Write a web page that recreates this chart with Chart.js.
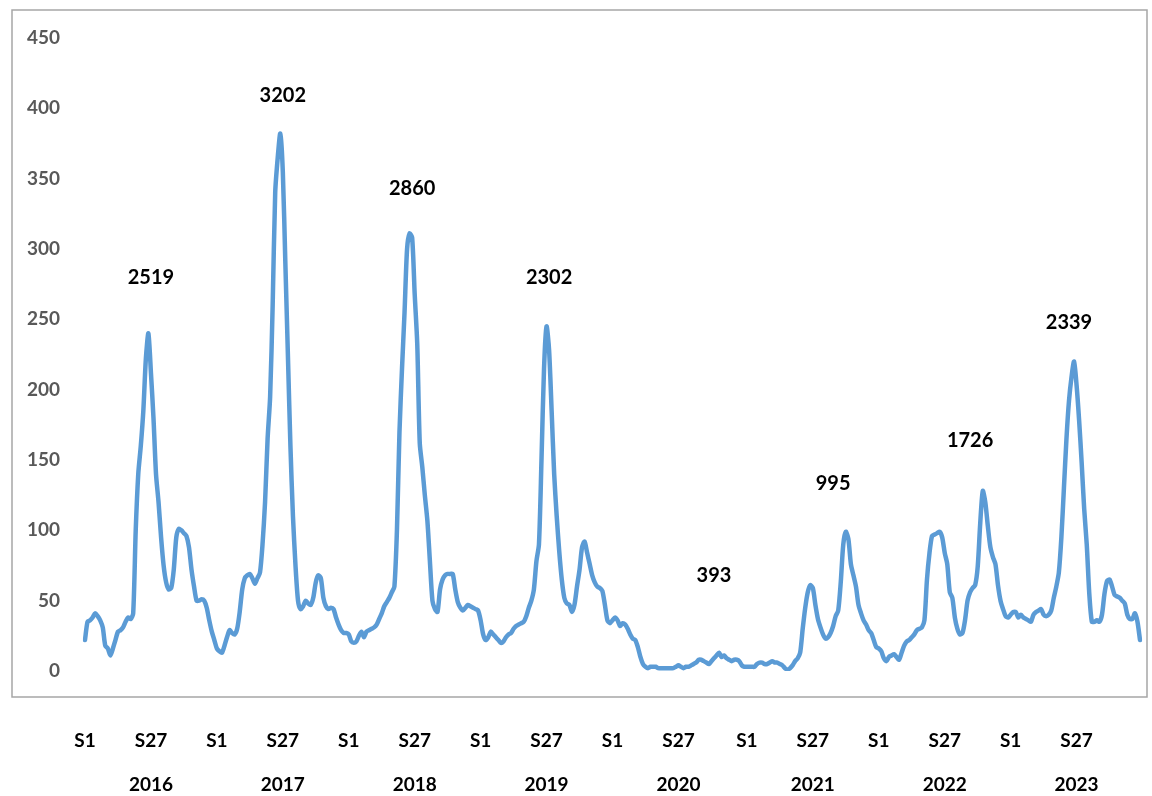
<!DOCTYPE html>
<html lang="pt">
<head>
    <meta charset="UTF-8">
    <title>Casos por semana epidemiológica 2016-2023</title>
    <script src="https://cdn.jsdelivr.net/npm/chart.js"></script>
    <style>
        html, body {
            margin: 0;
            padding: 0;
            background: #ffffff;
        }
        #wrap {
            width: 1152px;
            height: 796px;
            position: relative;
        }
    </style>
</head>
<body>
    <div id="wrap"><canvas id="weeklyChart"></canvas></div>
    <script>
        // weekly counts per epidemiological year (S1..S52, 2020 has S53)
        const years = [2016, 2017, 2018, 2019, 2020, 2021, 2022, 2023];

        const w2016 = [22,35,36,38,41,39,36,31,18,16, 11,16,22,28,29,31,35,38,37,41,
                       100,140,160,185,222,240,212,180,140,120, 95,75,63,58,59,72,95,101,100,98,
                       96,88,72,60,50,50,51,50,45,36, 28,22];
        const w2017 = [16,14,13,18,24,29,27,26,30,42, 58,66,68,69,66,62,66,70,90,120,
                       165,195,260,340,365,382,355,290,225,160, 110,75,50,44,46,50,48,47,52,63,
                       68,66,52,46,44,45,44,38,33,29, 27,27];
        const w2018 = [26,21,20,21,25,28,24,28,29,30, 31,33,37,41,46,49,52,56,60,100,
                       170,215,255,300,311,308,268,233,162,145, 125,107,78,50,44,42,58,65,68,69,
                       69,69,58,49,45,43,45,47,46,45, 44,43];
        const w2019 = [36,26,22,24,28,26,24,22,20,21, 24,26,27,30,32,33,34,35,39,45,
                       50,58,78,90,150,215,245,228,185,140, 110,85,65,52,48,47,42,47,60,72,
                       88,92,84,76,68,63,60,59,57,47, 36,34];
        const w2020 = [36,38,36,32,34,33,30,26,23,22, 17,10,5,3,2,3,3,3,2,2,
                       2,2,2,2,2,3,4,3,2,3, 3,4,5,6,8,8,7,6,5,7,
                       9,11,13,10,11,9,8,7,8,8, 7,4,3];
        const w2021 = [3,3,3,3,5,6,6,5,5,6, 7,6,6,5,4,2,1,2,4,7,
                       9,13,30,45,56,61,59,47,37,31, 26,23,24,27,32,39,43,63,90,99,
                       94,76,68,60,47,41,36,33,29,27, 22,17];
        const w2022 = [16,14,9,7,10,11,12,10,8,13, 18,21,22,24,26,29,30,31,36,65,
                       84,96,97,98,99,95,84,76,56,52, 38,30,26,27,36,50,56,59,61,74,
                       105,128,120,103,88,81,76,61,50,44, 39,38];
        const w2023 = [40,42,42,38,40,38,37,36,35,40, 42,43,44,40,39,40,43,52,60,70,
                       95,130,165,192,209,220,203,178,148,115, 90,55,35,35,36,35,40,55,64,65,
                       60,54,53,52,50,48,40,37,37,41, 35,22];

        const seasons = [w2016, w2017, w2018, w2019, w2020, w2021, w2022, w2023];

        // weeks that get a tick label
        const tickWeeks = [1, 27];

        // season totals written above each epidemic peak
        const seasonTotals = [2519, 3202, 2860, 2302, 393, 995, 1726, 2339];
        const totalWeek = [27, 27, 26, 28, 41, 35, 37, 24];
        const totalLevel = [280, 409, 343, 280, 68, 133, 164, 248];

        const yTicks = { min: 0, max: 450, step: 50 };

        // flatten into one category axis
        const labels = [];
        const values = [];
        const yearStart = [];
        seasons.forEach((weeks, y) => {
            yearStart.push(labels.length);
            weeks.forEach((v, i) => {
                labels.push(years[y] + '-S' + (i + 1));
                values.push(v);
            });
        });

        const fontFace = 'Lato, "Open Sans", sans-serif';

        // grey frame around the plot and the value axis
        const framePlugin = {
            id: 'frame',
            beforeDraw(chart) {
                const ctx = chart.ctx;
                const a = chart.chartArea;
                ctx.save();
                ctx.strokeStyle = '#a6a6a6';
                ctx.lineWidth = 1.5;
                ctx.strokeRect(a.left - 73, a.top - 28, (a.right + 7) - (a.left - 73), (a.bottom + 26) - (a.top - 28));
                ctx.restore();
            }
        };

        // season totals
        const totalsPlugin = {
            id: 'totals',
            afterDatasetsDraw(chart) {
                const ctx = chart.ctx;
                const xs = chart.scales.x;
                const ys = chart.scales.y;
                ctx.save();
                ctx.font = 'bold 20px ' + fontFace;
                ctx.fillStyle = '#000000';
                ctx.textAlign = 'center';
                ctx.textBaseline = 'middle';
                seasonTotals.forEach((t, i) => {
                    const idx = yearStart[i] + totalWeek[i] - 1;
                    ctx.fillText(String(t), xs.getPixelForValue(idx), ys.getPixelForValue(totalLevel[i]));
                });
                ctx.restore();
            }
        };

        const ctx = document.getElementById('weeklyChart').getContext('2d');
        new Chart(ctx, {
            type: 'line',
            data: {
                labels: labels,
                datasets: [{
                    label: 'Casos',
                    data: values,
                    borderColor: '#5B9BD5',
                    borderWidth: 4.5,
                    pointRadius: 0,
                    tension: 0.25,
                    borderJoinStyle: 'round',
                    borderCapStyle: 'round',
                    fill: false
                }]
            },
            options: {
                responsive: true,
                maintainAspectRatio: false,
                animation: false,
                layout: {
                    padding: { top: 38, right: 12, bottom: 0, left: 0 }
                },
                plugins: {
                    legend: { display: false },
                    tooltip: { enabled: false }
                },
                scales: {
                    x: {
                        type: 'category',
                        offset: false,
                        grid: { display: false, drawTicks: false },
                        border: { display: false },
                        ticks: {
                            autoSkip: false,
                            maxRotation: 0,
                            minRotation: 0,
                            padding: 48,
                            color: '#000000',
                            font: { family: fontFace, size: 19, weight: 'bold', lineHeight: '44px' },
                            callback: function (value, index) {
                                const lab = this.getLabelForValue(value);
                                const parts = lab.split('-S');
                                const week = parseInt(parts[1], 10);
                                if (!tickWeeks.includes(week)) return '';
                                return ['S' + week, week === 27 ? parts[0] : ''];
                            }
                        },
                        afterFit(scale) {
                            scale.height = 125;
                            scale.paddingLeft = 0;
                            scale.paddingRight = 0;
                        }
                    },
                    y: {
                        min: yTicks.min,
                        max: yTicks.max,
                        grid: { display: false, drawTicks: false },
                        border: { display: false },
                        ticks: {
                            stepSize: yTicks.step,
                            padding: 25,
                            color: '#595959',
                            font: { family: fontFace, size: 19, weight: 'bold' }
                        },
                        afterFit(scale) {
                            scale.width = 85;
                            scale.paddingTop = 0;
                            scale.paddingBottom = 0;
                        }
                    }
                }
            },
            plugins: [framePlugin, totalsPlugin]
        });
    </script>
</body>
</html>
